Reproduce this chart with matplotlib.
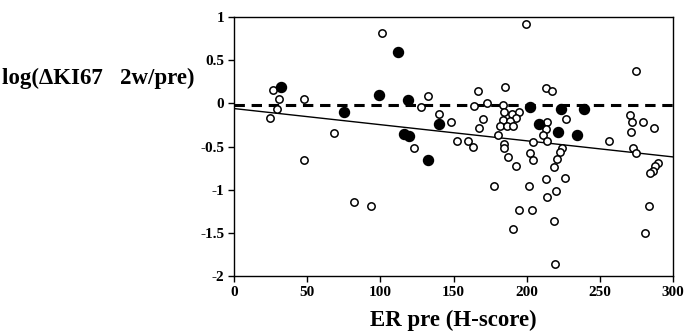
import matplotlib
matplotlib.use("Agg")
import matplotlib.pyplot as plt

# open circles
er_open = [26.4, 30.8, 29.6, 24.6, 47.4, 67.9, 47.8, 82.2, 93.4, 101.0,
           199.6, 132.8, 127.8, 139.9, 148.3, 123.0, 152.2, 159.5, 163.1, 167.0,
           185.3, 213.3, 217.0, 163.6, 173.0, 184.1, 184.5, 189.8, 194.8, 192.5,
           183.6, 188.7, 170.2, 167.6, 181.8, 186.4, 190.9, 180.5, 184.3, 184.3,
           204.2, 202.3, 204.3, 187.2, 192.6, 213.7, 213.5, 211.4, 214.0, 226.9,
           255.9, 224.0, 222.4, 220.6, 218.3, 177.8, 201.2, 213.3, 213.7, 194.8,
           203.5, 190.5, 226.2, 220.1, 218.7, 219.4, 270.7, 271.8, 271.2, 279.8,
           287.3, 272.3, 274.6, 289.6, 287.8, 286.2, 284.0, 283.9, 280.9, 274.8]
ki_open = [0.15, 0.05, -0.06, -0.17, 0.05, -0.34, -0.66, -1.14, -1.19, 0.82,
           0.92, 0.085, -0.04, -0.12, -0.21, -0.52, -0.43, -0.43, -0.50, 0.14,
           0.19, 0.18, 0.14, -0.03, 0.0, -0.02, -0.10, -0.12, -0.10, -0.17,
           -0.19, -0.20, -0.18, -0.28, -0.26, -0.26, -0.26, -0.37, -0.47, -0.52,
           -0.45, -0.58, -0.66, -0.62, -0.73, -0.22, -0.30, -0.37, -0.43, -0.18,
           -0.43, -0.52, -0.56, -0.64, -0.74, -0.96, -0.96, -0.87, -1.08, -1.24,
           -1.23, -1.45, -0.86, -1.01, -1.36, -1.86, -0.14, -0.22, -0.33, -0.21,
           -0.29, -0.52, -0.57, -0.69, -0.72, -0.78, -0.81, -1.19, -1.50, 0.38]

# filled circles
er_fill = [31.9, 75.4, 98.7, 112.3, 118.5, 116.0, 119.2, 132.8, 139.9, 202.3,
           208.7, 223.5, 238.8, 221.7, 234.2]
ki_fill = [0.19, -0.10, 0.10, 0.60, 0.04, -0.35, -0.38, -0.65, -0.24, -0.04,
           -0.24, -0.07, -0.07, -0.33, -0.37]

# reference lines
ref_x = [0, 300]
dash_y = [-0.02, -0.02]
fit_y = [-0.06, -0.62]

xticks = [0, 50, 100, 150, 200, 250, 300]
yticks = [1, 0.5, 0, -0.5, -1, -1.5, -2]
ytick_labels = ["1", "0.5", "0", "-0.5", "-1", "-1.5", "-2"]

plt.rcParams['font.family'] = ['Liberation Serif', 'DejaVu Serif']
plt.rcParams['font.weight'] = 'bold'

fig = plt.figure(figsize=(6.97, 3.35), dpi=100)
ax = fig.add_axes([0.336, 0.176, 0.6296, 0.773])

ax.plot(ref_x, fit_y, color='black', lw=1.0, zorder=1)
ax.plot(ref_x, dash_y, color='black', lw=2.2, dashes=(3.4, 2.2), zorder=1)

ax.scatter(er_open, ki_open, s=28, facecolors='white', edgecolors='black',
           linewidths=1.1, zorder=2)
ax.scatter(er_fill, ki_fill, s=52, color='black', zorder=3)

ax.set_xlim(0, 300)
ax.set_ylim(-2, 1)
ax.set_xticks(xticks)
ax.set_yticks(yticks)
ax.set_yticklabels(ytick_labels)
ax.tick_params(direction='out', length=4, width=1, labelsize=11, pad=3)
for s in ax.spines.values():
    s.set_linewidth(1.0)

fig.text(0.65, 0.045, "ER pre (H-score)", ha='center', va='center',
         fontsize=16.5, fontweight='bold')
fig.text(0.003, 1 - 78 / 335, "log(\u0394KI67   2w/pre)", ha='left', va='center',
         fontsize=16.5, fontweight='bold')

fig.savefig("out.png", dpi=100)
